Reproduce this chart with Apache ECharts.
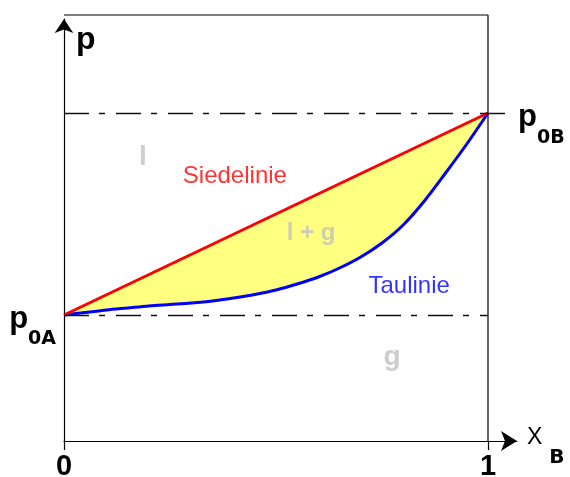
<!DOCTYPE html>
<html>
<head>
<meta charset="utf-8">
<script src="https://cdn.jsdelivr.net/npm/echarts@6/dist/echarts.min.js"></script>
<style>
  html, body { margin: 0; background: #fff; }
  #chart { width: 570px; height: 477px; }
</style>
</head>
<body>
<div id="chart"></div>
<script>
const xTau = [0, 0.05, 0.1, 0.15, 0.2, 0.25, 0.3, 0.35, 0.4, 0.45, 0.5,
  0.55, 0.6, 0.65, 0.7, 0.75, 0.8, 0.85, 0.9, 0.95, 1];
const pTau = [126, 128.5, 131, 133, 135, 136.5, 138, 140, 143, 146.5, 151,
  157, 164, 173, 184, 198, 216, 240, 268, 297, 328];

// Siedelinie: Gerade zwischen den Dampfdrücken der reinen Stoffe
const xSiede = [0, 1];
const pSiede = [126, 328];

const p0A = 126;
const p0B = 328;
const pTop = 426; // oberer Rahmen
const xTicks = [0, 1];

const FONT = "'Liberation Sans', Arial, sans-serif";
const SUBFONT = "'DejaVu Sans', Verdana, sans-serif";

const toPairs = (xs, ys) => xs.map((x, i) => [x, ys[i]]);

const pRich = (pad) => ({
  p: { fontFamily: FONT, fontSize: 31, fontWeight: "bold", color: "#000", lineHeight: 31, padding: [8, 0, 0, 0] },
  s: { fontFamily: SUBFONT, fontSize: 19, fontWeight: "bold", color: "#000", lineHeight: 19, padding: [pad, 0, 0, 0] },
});

const chart = echarts.init(document.getElementById("chart"));

const option = {
  animation: false,
  grid: { left: 64, right: 53, top: 19, bottom: 36, outerBoundsMode: "none", containLabel: false },
  xAxis: {
    type: "value",
    min: 0,
    max: 1.0684,
    interval: 1,
    name: "{x|X}{s|B}",
    nameLocation: "end",
    nameGap: 10,
    nameTextStyle: {
      rich: {
        x: { fontFamily: FONT, fontSize: 23, color: "#000", padding: [0, 0, 6, 0] },
        s: { fontFamily: SUBFONT, fontSize: 20, fontWeight: "bold", color: "#000", lineHeight: 20, padding: [34, 0, 0, 7] },
      },
    },
    axisLine: {
      lineStyle: { color: "#000", width: 1.2 },
      symbol: ["none", "arrow"],
      symbolSize: [15, 16],
    },
    axisTick: { customValues: xTicks, length: 9, lineStyle: { color: "#000", width: 1.2 } },
    axisLabel: {
      customValues: xTicks,
      margin: 11,
      fontFamily: FONT,
      fontSize: 29,
      fontWeight: "bold",
      color: "#000",
    },
    splitLine: { show: false },
  },
  yAxis: {
    type: "value",
    min: 0,
    max: 422,
    name: "p",
    nameLocation: "end",
    nameGap: -21,
    nameTextStyle: {
      fontFamily: FONT,
      fontSize: 32,
      fontWeight: "bold",
      color: "#000",
      align: "left",
      verticalAlign: "middle",
      padding: [0, 0, 0, 12],
    },
    axisLine: {
      show: true,
      lineStyle: { color: "#000", width: 1.2 },
      symbol: ["none", "arrow"],
      symbolSize: [14, 14],
    },
    axisTick: { show: false },
    axisLabel: {
      customValues: [p0A],
      margin: 8,
      formatter: () => "{p|p}{s|0A}",
      rich: pRich(48),
    },
    splitLine: { show: false },
  },
  series: [
    {
      // gelbe Fläche (Zweiphasengebiet), unten durch die Taulinie abgedeckt
      name: "Zweiphasengebiet",
      type: "line",
      data: toPairs(xSiede, pSiede),
      symbol: "none",
      lineStyle: { width: 0 },
      areaStyle: { color: "#ffff80", opacity: 1, origin: p0A },
      z: 1,
    },
    {
      name: "Taulinie",
      type: "line",
      data: toPairs(xTau, pTau),
      smooth: 0.3,
      symbol: "none",
      lineStyle: { color: "#0000ff", width: 3 },
      areaStyle: { color: "#ffffff", opacity: 1, origin: p0A },
      z: 2,
    },
    {
      name: "Siedelinie",
      type: "line",
      data: toPairs(xSiede, pSiede),
      symbol: "none",
      lineStyle: { color: "#ff0000", width: 3 },
      z: 3,
    },
    {
      // Rahmen oben/rechts und Strichpunktlinien bei p0A, p0B
      name: "Rahmen",
      type: "line",
      data: [[0, pTop], [1, pTop], [1, 0]],
      symbol: "none",
      clip: false,
      lineStyle: { color: "#000", width: 1.2 },
      z: 5,
      markLine: {
        silent: true,
        symbol: "none",
        lineStyle: { color: "#111", width: 1.3, type: [25, 10, 6, 11] },
        data: [
          [{ coord: [0, p0A] }, { coord: [1, p0A] }],
          [
            {
              coord: [0, p0B],
              label: {
                show: true,
                position: "end",
                distance: 5,
                formatter: "{p|p}{s|0B}",
                rich: pRich(50),
              },
            },
            { coord: [1.059, p0B] },
          ],
        ],
        label: { show: false },
      },
    },
    {
      name: "Beschriftung",
      type: "scatter",
      symbolSize: 0,
      z: 6,
      label: {
        show: true,
        position: "inside",
        formatter: "{b}",
        fontFamily: FONT,
      },
      data: [
        { name: "l", value: [0.186, 284], label: { fontSize: 28, fontWeight: "bold", color: "#c0c0c0" } },
        { name: "Siedelinie", value: [0.403, 265], label: { fontSize: 24, color: "#ff0000" } },
        { name: "l + g", value: [0.583, 208], label: { fontSize: 24, fontWeight: "bold", color: "#c0c0c0" } },
        { name: "Taulinie", value: [0.814, 155], label: { fontSize: 24, color: "#0000ff" } },
        { name: "g", value: [0.774, 84], label: { fontSize: 28, fontWeight: "bold", color: "#c0c0c0" } },
      ],
    },
  ],
};

chart.setOption(option);
window.addEventListener("resize", () => chart.resize());
</script>
</body>
</html>
